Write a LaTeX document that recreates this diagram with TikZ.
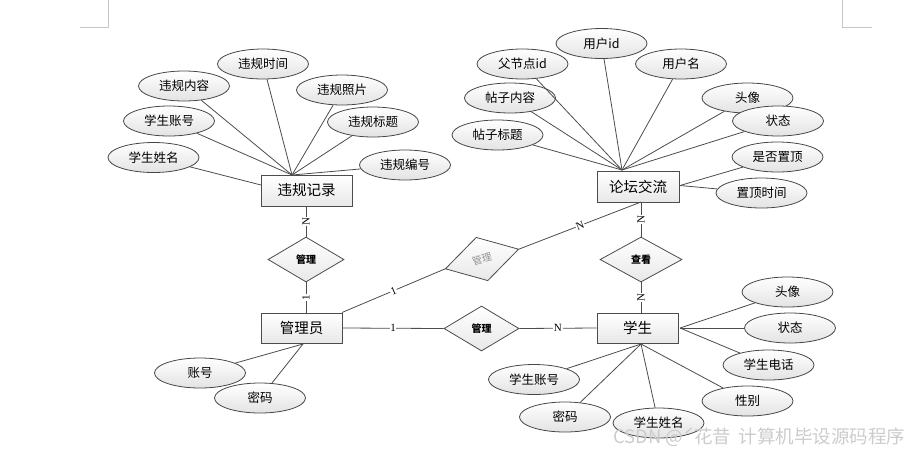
\documentclass[tikz,border=0pt]{standalone}
\usepackage{fontspec}
\setmainfont{Liberation Serif}
\newfontfamily\cjk{Noto Sans CJK SC}
\usetikzlibrary{shapes.geometric}
\tikzset{
  attr/.style={ellipse, draw=gray!55!black, line width=0.8pt, top color=white, bottom color=gray!22,
    minimum width=91pt, minimum height=30pt, inner sep=0pt, font=\cjk\fontsize{12.5}{14}\selectfont},
  ent/.style={rectangle, draw=gray!60!black, line width=1pt, top color=white, bottom color=gray!18,
    minimum height=30pt, inner sep=0pt, font=\cjk\fontsize{14.5}{16}\selectfont},
  rel/.style={diamond, draw=gray!60!black, line width=0.8pt, top color=white, bottom color=gray!18,
    minimum width=78pt, minimum height=45pt, inner sep=0pt, font=\cjk\bfseries\fontsize{10}{11}\selectfont},
  conn/.style={draw=gray!60!black, line width=0.8pt},
  card/.style={fill=white, inner sep=0.6pt, font=\fontsize{11}{11}\selectfont, text=black},
  cornermark/.style={draw=gray!45, line width=0.8pt}
}
\begin{document}
\begin{tikzpicture}[x=1pt,y=-1pt]
\useasboundingbox (0,0) rectangle (909,451);
% corner marks
\coordinate (ml1) at (108,0); \coordinate (ml2) at (108,27); \coordinate (ml3) at (80,27);
\coordinate (mr1) at (842,0); \coordinate (mr2) at (842,27); \coordinate (mr3) at (872,27);
\draw[cornermark] (ml1) -- (ml2) -- (ml3);
\draw[cornermark] (mr1) -- (mr2) -- (mr3);

% entities
\node[ent, minimum width=91pt, minimum height=31pt] (vio) at (306.5,190.5) {违规记录};
\node[ent, minimum width=81pt] (admin) at (301.5,328) {管理员};
\node[ent, minimum width=82pt, minimum height=31pt] (forum) at (638,186.5) {论坛交流};
\node[ent, minimum width=81pt] (stu) at (637.5,328) {学生};

% relationships
\node[rel, minimum width=76pt] (r1) at (306,259.5) {管理};
\node[rel, rotate=15, minimum width=76pt, font=\cjk\fontsize{10}{11}\selectfont, text=gray!85] (r2) at (482,259) {管理};
\node[rel, minimum width=82pt] (r3) at (641,259.5) {查看};
\node[rel, minimum width=75pt] (r4) at (481.5,328.5) {管理};

% attributes of 违规记录
\node[attr] (a1) at (263,64) {违规时间};
\node[attr] (a2) at (184,86) {违规内容};
\node[attr] (a3) at (342,90) {违规照片};
\node[attr] (a4) at (169,121) {学生账号};
\node[attr] (a5) at (373,122) {违规标题};
\node[attr] (a6) at (153.5,157.5) {学生姓名};
\node[attr] (a7) at (405,165) {违规编号};
\coordinate (cv) at (292,175);
\coordinate (cvl) at (261,185);
\foreach \n in {a1,a2,a3,a4,a5,a7} \draw[conn] (\n) -- (cv);
\draw[conn] (a6) -- (cvl);

% attributes of 论坛交流
\node[attr] (b1) at (601.5,43.5) {用户id};
\node[attr] (b2) at (522.5,64) {父节点id};
\node[attr] (b3) at (681,64) {用户名};
\node[attr] (b4) at (510,98) {帖子内容};
\node[attr] (b5) at (747.5,98) {头像};
\node[attr] (b6) at (778,121) {状态};
\node[attr] (b7) at (497.5,135) {帖子标题};
\node[attr] (b8) at (777.5,157) {是否置顶};
\node[attr] (b9) at (761.5,193) {置顶时间};
\coordinate (cf) at (622,170);
\coordinate (cfr) at (680,185.5);
\foreach \n in {b1,b2,b3,b4,b5,b6,b7} \draw[conn] (\n) -- (cf);
\draw[conn] (b8) -- (cfr);
\draw[conn] (b9) -- (cfr);

% attributes of 学生
\node[attr] (s1) at (787.5,292) {头像};
\node[attr] (s2) at (790,328) {状态};
\node[attr] (s3) at (768.5,365) {学生电话};
\node[attr] (s4) at (747.5,401) {性别};
\node[attr] (s5) at (658.5,423) {学生姓名};
\node[attr] (s6) at (565,417) {密码};
\node[attr] (s7) at (534,379.5) {学生账号};
\coordinate (csr) at (680,328);
\coordinate (csb) at (641,344);
\foreach \n in {s1,s2,s3} \draw[conn] (\n) -- (csr);
\foreach \n in {s4,s5,s6,s7} \draw[conn] (\n) -- (csb);

% attributes of 管理员
\node[attr] (m1) at (200,373) {账号};
\node[attr] (m2) at (260,398) {密码};
\coordinate (cm) at (303,344);
\draw[conn] (m1) -- (cm);
\draw[conn] (m2) -- (cm);

% relationship connectors
\coordinate (vb) at (306,206);
\coordinate (at) at (306,313);
\draw[conn] (vb) -- node[card, rotate=90] {N} (r1.north);
\draw[conn] (r1.south) -- node[card, rotate=90] {1} (at);
\coordinate (ane) at (342,312.5);
\coordinate (fb) at (641,202);
\draw[conn] (ane) -- node[card, sloped] {1} (r2.west);
\draw[conn] (r2.east) -- node[card, sloped] {N} (fb);
\draw[conn] (fb) -- node[card, rotate=90] {N} (r3.north);
\coordinate (st) at (641,313);
\draw[conn] (r3.south) -- node[card, rotate=90] {N} (st);
\draw[conn] (admin.east) -- node[card] {1} (r4.west);
\draw[conn] (r4.east) -- node[card] {N} (stu.west);

% watermark
\node[anchor=west, text=gray!40, font=\cjk\fontsize{18.5}{20}\selectfont, inner sep=0pt] (wm) at (613,437) {CSDN @ˊ花昔\, 计算机毕设源码程序};
\end{tikzpicture}
\end{document}
